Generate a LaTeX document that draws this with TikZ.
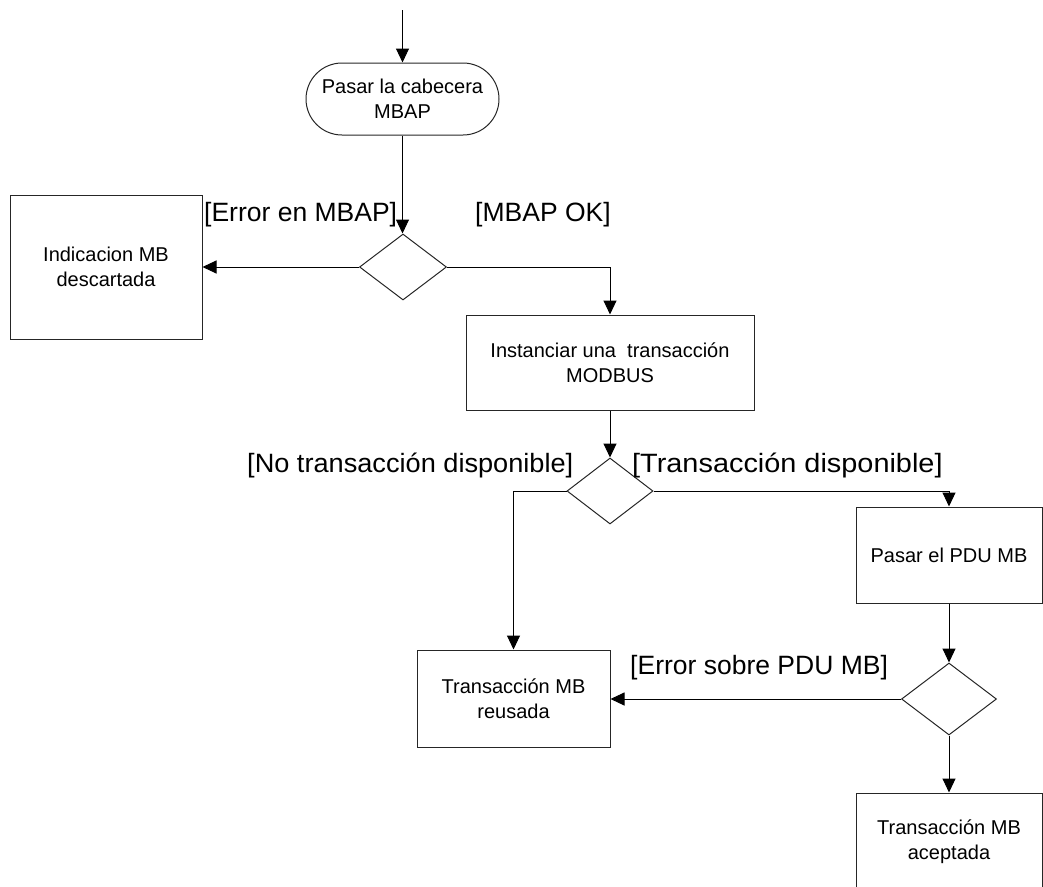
\documentclass[tikz,border=0pt]{standalone}
\usepackage{fontspec}
\setmainfont{Liberation Sans}
\usetikzlibrary{shapes.geometric,arrows.meta,calc}

\tikzset{
  flow/.style={draw=black!85, line width=1pt},
  actbox/.style={flow, rectangle, inner sep=0pt, align=center,
    font=\fontsize{20}{25}\selectfont},
  startbox/.style={actbox, rounded corners=36pt},
  decision/.style={flow, diamond, inner sep=0pt},
  guard/.style={inner sep=0pt, anchor=west, font=\fontsize{26.5}{30}\selectfont},
  link/.style={draw=black, line width=1pt, -{Triangle[length=14pt,width=13pt]}},
}

\begin{document}
\begin{tikzpicture}[x=1pt, y=-1pt]
  \useasboundingbox (0,0) rectangle (1043,886);
  \clip (0,0) rectangle (1043,886);

  % activities
  \node[startbox, minimum width=193pt, minimum height=72pt] (start) at (402.5,99)
    {Pasar la cabecera\\MBAP};
  \node[actbox, minimum width=192pt, minimum height=144pt] (discard) at (106,267)
    {Indicacion MB\\descartada};
  \node[actbox, minimum width=288pt, minimum height=95pt] (inst) at (610,362.5)
    {Instanciar una\ \ transacción\\MODBUS};
  \node[actbox, minimum width=193pt, minimum height=97pt] (reuse) at (513.5,698.5)
    {Transacción MB\\reusada};
  \node[actbox, minimum width=186pt, minimum height=96pt] (pdu) at (949,555)
    {Pasar el PDU MB};
  \node[actbox, minimum width=186pt, minimum height=98pt] (accept) at (949,842)
    {Transacción MB\\aceptada};

  % decisions
  \node[decision, minimum width=87pt, minimum height=66pt] (d1) at (403,267) {};
  \node[decision, minimum width=86pt, minimum height=66pt] (d2) at (610,491) {};
  \node[decision, minimum width=95pt, minimum height=72pt] (d3) at (949,699) {};

  % incoming flow
  \coordinate (entry) at (402.5,10);
  \draw[link] (entry) -- (start.north);

  % flows
  \draw[link] (start.south) -- (d1.north -| start.south);
  \draw[link] (d1.west) -- (discard.east |- d1.west);
  \draw[link] (d1.east) -| (inst.north);
  \draw[link] (inst.south) -- (d2.north);
  \draw[link] (d2.west) -| (reuse.north);
  \draw[link] (d2.east) -| (pdu.north);
  \draw[link] (pdu.south) -- (d3.north);
  \draw[link] (d3.west) -- (reuse.east |- d3.west);
  \draw[link] (d3.south) -- (accept.north);

  % guards
  \node[guard] (g1) at (204,215) {[Error en MBAP]};
  \node[guard] (g2) at (475,215) {[MBAP OK]};
  \node[guard] (g3) at (247,465) {\scalebox{1.025}[1]{[No transacción disponible]}};
  \node[guard] (g4) at (632,465) {\scalebox{1.09}[1]{[Transacción disponible]}};
  \node[guard] (g5) at (630,668) {[Error sobre PDU MB]};
\end{tikzpicture}
\end{document}
